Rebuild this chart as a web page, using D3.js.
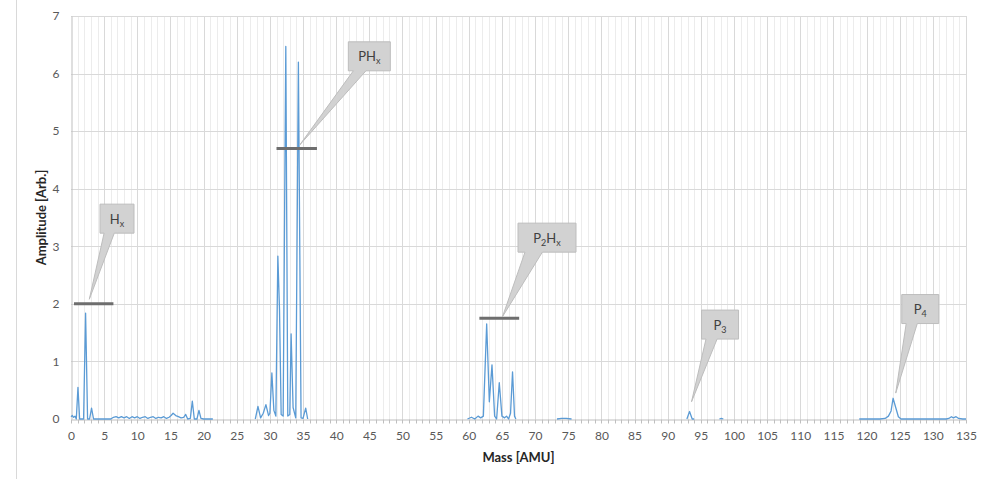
<!DOCTYPE html>
<html>
<head>
<meta charset="utf-8">
<script src="https://cdn.jsdelivr.net/npm/d3@7"></script>
<style>
  html, body { margin: 0; padding: 0; background: #fff; }
  svg text { font-family: Lato, "Open Sans", sans-serif; }
</style>
</head>
<body>
<div class="chart"></div>
<script>
// spectrum (mass in AMU, amplitude arb.), null = gap
const mass = [
  0, 0.2, 0.4, 0.6, 0.8, 1.05, 1.3, 1.6, 1.9, 2.2, 2.5, 2.8, 3.1, 3.4, 4, 5, 6, 6.4, 6.8, 7.2, 7.6, 8, 8.4, 8.8, 9.2, 9.6, 10, 10.4, 10.8,
  11.2, 11.6, 12, 12.4, 12.8, 13.2, 13.6, 14, 14.4, 14.8, 15.1, 15.4, 15.8, 16.2, 16.6, 17, 17.3, 17.6, 18, 18.3, 18.6, 19, 19.3, 19.6, 20, 21, 21.4,
  21.5,
  27.8, 28.2, 28.6, 29, 29.4, 29.8, 30, 30.3, 30.6, 30.9, 31.2, 31.45, 31.7, 32, 32.4, 32.7, 33, 33.2, 33.5, 33.9, 34.3, 34.7, 35, 35.4, 35.7,
  35.8,
  59.8, 60.4, 60.9, 61.4, 61.8, 62.2, 62.7, 63.1, 63.5, 63.9, 64.2, 64.6, 65, 65.4, 65.7, 66, 66.3, 66.6, 66.9, 67.1,
  67.2,
  73.3, 74, 74.7, 75.5,
  75.6,
  92.9, 93.3, 93.7, 94.0,
  94.1,
  97.8, 98.1, 98.4,
  98.5,
  118.9, 120, 121, 122, 122.8, 123.3, 123.7, 124, 124.4, 124.8, 125.2, 126, 127, 128, 129, 130, 131, 132, 132.4, 132.8, 133.1, 133.5, 133.9, 134.5, 135
]
const amplitude = [
  0.04, 0.06, 0.03, 0.05, 0.0, 0.55, 0.0, 0.0, 0.0, 1.84, 0.0, 0.0, 0.19, 0.0, 0.0, 0.0, 0.0, 0.03, 0.04, 0.02, 0.04, 0.02, 0.04, 0.01, 0.04, 0.02, 0.04, 0.01, 0.03,
  0.04, 0.01, 0.03, 0.04, 0.01, 0.03, 0.02, 0.04, 0.01, 0.03, 0.06, 0.1, 0.06, 0.04, 0.02, 0.03, 0.08, 0.0, 0.01, 0.31, 0.0, 0.0, 0.15, 0.01, 0.0, 0.0, 0.0,
  null,
  0.0, 0.22, 0.02, 0.1, 0.25, 0.06, 0.1, 0.8, 0.15, 0.05, 2.83, 1.9, 0.08, 0.05, 6.47, 0.05, 0.08, 1.48, 0.2, 0.02, 6.2, 0.02, 0.01, 0.19, 0.0,
  null,
  0.0, 0.03, 0.0, 0.05, 0.02, 0.05, 1.65, 0.3, 0.94, 0.05, 0.0, 0.63, 0.05, 0.02, 0.05, 0.0, 0.1, 0.82, 0.05, 0.0,
  null,
  0.0, 0.01, 0.01, 0.0,
  null,
  0.0, 0.13, 0.0, 0.0,
  null,
  0.0, 0.01, 0.0,
  null,
  0.0, 0.0, 0.0, 0.0, 0.01, 0.05, 0.14, 0.36, 0.2, 0.04, 0.0, 0.0, 0.0, 0.0, 0.0, 0.0, 0.0, 0.0, 0.01, 0.04, 0.02, 0.04, 0.01, 0.0, 0.0
]

const xTicks = d3.range(0, 136, 5)
const yTicks = d3.range(0, 8, 1)

// callouts: label, subscript, tip [mass, amp], box centre [mass, amp], box width
const callLabels = ['H', 'PH', 'P', 'P', 'P']
const callSubs = ['x', 'x', '2', '3', '4']
const callTail = ['', '', 'H', '', '']
const callTailSub = ['', '', 'x', '', '']
const callTips = [[2.76, 2.08], [34.5, 4.76], [65.1, 1.78], [93.6, 0.30], [124.4, 0.45]]
const callBoxes = [[6.94, 3.48], [45.0, 6.30], [71.8, 3.15], [97.9, 1.64], [128.1, 1.91]]
const callWidths = [34, 42, 58, 37, 37]

// horizontal marker bars [from, to, amp]
const bars = [[0.45, 6.4, 2.0], [31.0, 37.1, 4.7], [61.6, 67.6, 1.75]]

const width = 990, height = 479
const margin = { top: 16, right: 24, bottom: 60, left: 71 }

const svg = d3.select('.chart').append('svg')
  .attr('width', width)
  .attr('height', height)

const x = d3.scaleLinear().domain([0, 135]).range([margin.left, width - margin.right])
const y = d3.scaleLinear().domain([0, 7]).range([height - margin.bottom, margin.top])

// outer frame edge on the left
svg.append('line')
  .attr('x1', 16.5).attr('x2', 16.5).attr('y1', 0).attr('y2', height)
  .attr('stroke', '#d9d9d9')

// grid
const grid = svg.append('g')
grid.selectAll('.minor')
  .data(d3.range(1, 136).filter(d => d % 5 !== 0))
  .enter().append('line')
  .attr('x1', d => Math.round(x(d)) + 0.5).attr('x2', d => Math.round(x(d)) + 0.5)
  .attr('y1', y(7)).attr('y2', y(0))
  .attr('stroke', '#ececec')
grid.selectAll('.major')
  .data(xTicks.slice(1))
  .enter().append('line')
  .attr('x1', d => Math.round(x(d)) + 0.5).attr('x2', d => Math.round(x(d)) + 0.5)
  .attr('y1', y(7)).attr('y2', y(0))
  .attr('stroke', '#d9d9d9')
grid.selectAll('.hor')
  .data(yTicks.slice(1))
  .enter().append('line')
  .attr('x1', x(0)).attr('x2', x(135))
  .attr('y1', d => Math.round(y(d)) + 0.5).attr('y2', d => Math.round(y(d)) + 0.5)
  .attr('stroke', '#d9d9d9')

// axes
const xAxis = svg.append('g')
  .attr('transform', `translate(0,${Math.round(y(0)) + 0.5})`)
  .call(d3.axisBottom(x).tickValues(xTicks).tickSize(0).tickPadding(12))
xAxis.append('g').selectAll('line')
  .data(d3.range(0, 136))
  .enter().append('line')
  .attr('x1', d => Math.round(x(d)) + 0.5).attr('x2', d => Math.round(x(d)) + 0.5)
  .attr('y1', 0).attr('y2', 4)
  .attr('stroke', '#bfbfbf')

const yAxis = svg.append('g')
  .attr('transform', `translate(${Math.round(x(0)) + 0.5},0)`)
  .call(d3.axisLeft(y).tickValues(yTicks).tickFormat(d3.format('d')).tickSize(0).tickPadding(12))

svg.selectAll('.domain').attr('stroke', '#bfbfbf')
svg.selectAll('.tick text')
  .attr('fill', '#595959')
  .style('font-size', '12px')

svg.append('text')
  .attr('x', x(67.5)).attr('y', 462)
  .attr('text-anchor', 'middle')
  .attr('fill', '#262626')
  .style('font-size', '13px').style('font-weight', 'bold')
  .text('Mass [AMU]')

svg.append('text')
  .attr('transform', `translate(46,${y(3.5)}) rotate(-90)`)
  .attr('text-anchor', 'middle')
  .attr('fill', '#262626')
  .style('font-size', '13px').style('font-weight', 'bold')
  .text('Amplitude [Arb.]')

// spectrum
const points = mass.map((m, i) => [m, amplitude[i]])
const line = d3.line()
  .defined(d => d[1] !== null)
  .x(d => x(d[0]))
  .y(d => y(d[1]))

svg.append('path')
  .datum(points)
  .attr('d', line)
  .attr('fill', 'none')
  .attr('stroke', '#5b9bd5')
  .attr('stroke-width', 1.3)
  .attr('stroke-linejoin', 'round')

// marker bars
svg.selectAll('.bar')
  .data(bars)
  .enter().append('line')
  .attr('x1', d => x(d[0])).attr('x2', d => x(d[1]))
  .attr('y1', d => y(d[2])).attr('y2', d => y(d[2]))
  .attr('stroke', '#6e6e6e')
  .attr('stroke-width', 3)

// callouts
const boxH = 29
callLabels.forEach((lab, i) => {
  const w = callWidths[i]
  const cx = x(callBoxes[i][0]), cy = y(callBoxes[i][1])
  const l = cx - w / 2, t = cy - boxH / 2, r = cx + w / 2, b = cy + boxH / 2
  const tx = x(callTips[i][0]), ty = y(callTips[i][1])
  const b1 = l + w * 0.12, b2 = l + w * 0.42
  const path = `M${l},${t}H${r}V${b}H${b2}L${tx},${ty}L${b1},${b}H${l}Z`

  const g = svg.append('g')
  g.append('path')
    .attr('d', path)
    .attr('fill', '#d2d2d2')
    .attr('stroke', '#bdbdbd')
    .attr('stroke-width', 1)

  const txt = g.append('text')
    .attr('x', cx).attr('y', cy + 5)
    .attr('text-anchor', 'middle')
    .attr('fill', '#404040')
    .style('font-size', '13px')
  txt.append('tspan').text(lab)
  txt.append('tspan').attr('dy', 3).style('font-size', '9px').text(callSubs[i])
  if (callTail[i]) {
    txt.append('tspan').attr('dy', -3).text(callTail[i])
    txt.append('tspan').attr('dy', 3).style('font-size', '9px').text(callTailSub[i])
  }
})
</script>
</body>
</html>
